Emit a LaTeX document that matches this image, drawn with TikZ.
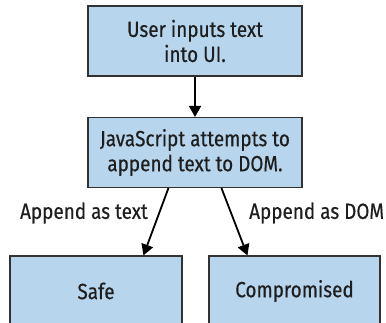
\documentclass[tikz,border=0pt]{standalone}
\usepackage{fontspec}
\setmainfont[FakeStretch=0.86,FakeBold=0.4]{Fira Sans}
\usetikzlibrary{arrows.meta,calc}
\definecolor{boxfill}{RGB}{183,213,236}
\definecolor{boxline}{RGB}{50,50,50}
\definecolor{txt}{RGB}{30,30,30}
\tikzset{
  flowbox/.style={draw=boxline, line width=1.1pt, fill=boxfill, text=txt, align=center,
    font=\fontsize{22}{25}\selectfont, inner sep=0pt},
  flowarrow/.style={line width=1.8pt, -{Triangle[width=12pt,length=11pt]}},
  lbl/.style={text=txt, font=\fontsize{22}{25}\selectfont, inner sep=0pt}
}
\begin{document}
\begin{tikzpicture}[x=1pt,y=1pt]
\useasboundingbox (0,0) rectangle (386,323);
\node[flowbox, minimum width=214pt, minimum height=70pt] (top) at (195,282) {User inputs text\\into UI.};
\node[flowbox, minimum width=214pt, minimum height=70pt] (mid) at (195,170.5) {JavaScript attempts to\\append text to DOM.};
\node[flowbox, minimum width=172pt, minimum height=70pt] (safe) at (96,32) {Safe};
\node[flowbox, minimum width=171pt, minimum height=70pt] (comp) at (294.5,32) {Compromised};
\coordinate (m1) at ($(mid.south west)+(81,0)$);
\coordinate (m2) at ($(mid.south west)+(134,0)$);
\coordinate (s1) at ($(safe.north west)+(134,0)$);
\coordinate (c1) at ($(comp.north west)+(39,0)$);
\draw[flowarrow] (top.south) -- (mid.north);
\draw[flowarrow] (m1) -- (s1);
\draw[flowarrow] (m2) -- (c1);
\node[lbl, anchor=east] (la) at (148,110) {Append as text};
\node[lbl, anchor=west] (lb) at (249,110) {Append as DOM};
\end{tikzpicture}
\end{document}
